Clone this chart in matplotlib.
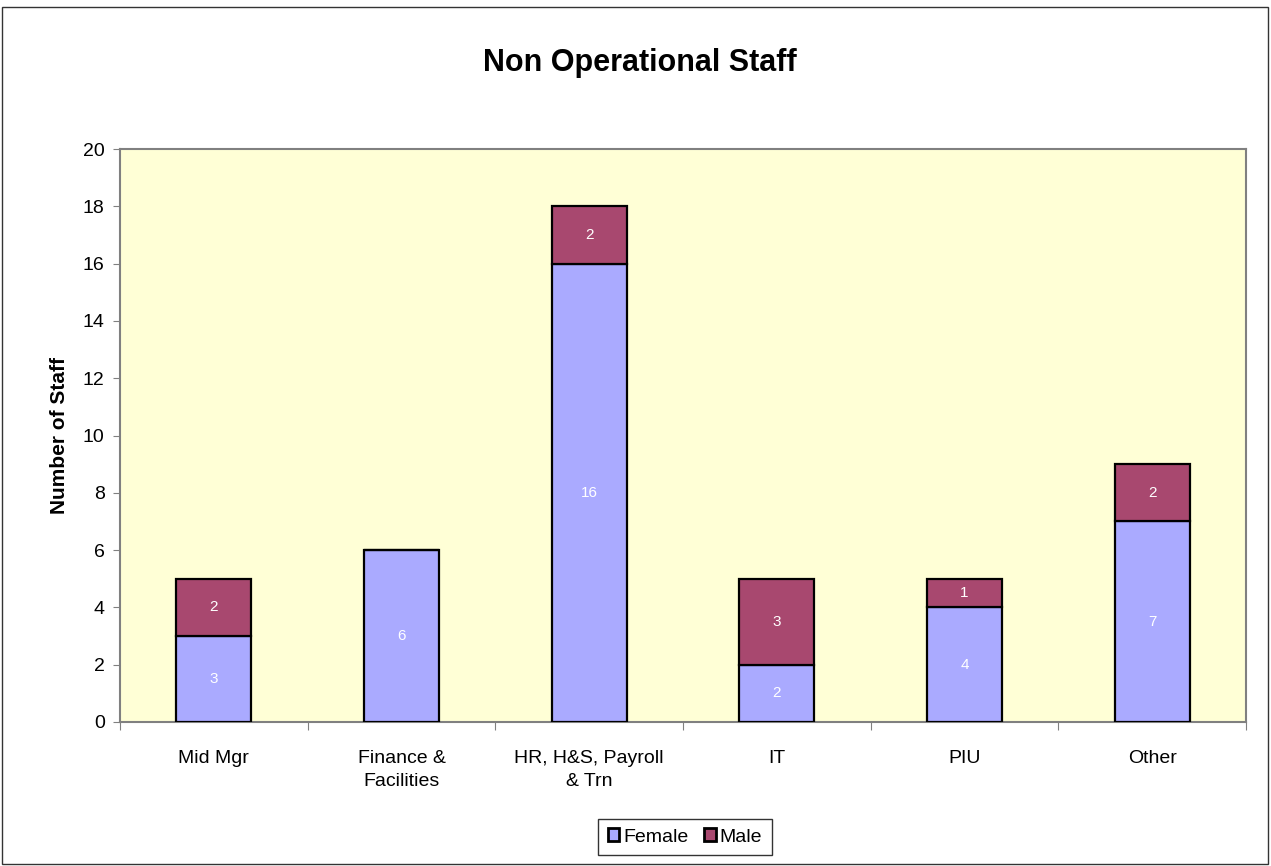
import matplotlib
matplotlib.use("Agg")
import matplotlib.pyplot as plt
from matplotlib.patches import Rectangle
import numpy as np

plt.rcParams['font.family'] = ['Liberation Sans', 'DejaVu Sans']

categories = ["Mid Mgr", "Finance &\nFacilities", "HR, H&S, Payroll\n& Trn", "IT", "PIU", "Other"]
female = [3, 6, 16, 2, 4, 7]
male = [2, 0, 2, 3, 1, 2]

c_female = "#AAAAFF"
c_male = "#A8486F"
bg = "#FFFFD6"
axis_grey = "#808080"

fig = plt.figure(figsize=(12.71, 8.66), dpi=100)
ax = fig.add_axes([120/1271, 1-722/866, (1246-120)/1271, (722-149)/866])
ax.set_facecolor(bg)

x = np.arange(len(categories))
w = 0.4
b1 = ax.bar(x, female, w, color=c_female, edgecolor="black", linewidth=1.6, zorder=3)
b2 = ax.bar(x, male, w, bottom=female, color=c_male, edgecolor="black", linewidth=1.6, zorder=3)

for i in range(len(categories)):
    if female[i] > 0:
        ax.text(x[i], female[i]/2, str(female[i]), ha="center", va="center", color="white", fontsize=11, zorder=4)
    if male[i] > 0:
        ax.text(x[i], female[i] + male[i]/2, str(male[i]), ha="center", va="center", color="white", fontsize=11, zorder=4)

ax.set_xlim(-0.5, len(categories)-0.5)
ax.set_ylim(0, 20)
ax.set_yticks(np.arange(0, 21, 2))
ax.tick_params(axis="y", direction="out", length=5, color=axis_grey, labelsize=14, pad=6)
ax.set_xticks(np.arange(-0.5, len(categories), 1))
ax.set_xticklabels([])
ax.set_xticks(x, minor=True)
ax.set_xticklabels(categories, minor=True, fontsize=14, linespacing=1.45)
ax.tick_params(axis="x", which="major", direction="out", length=6, color=axis_grey)
ax.tick_params(axis="x", which="minor", length=0, pad=20)
for s in ax.spines.values():
    s.set_color(axis_grey)
    s.set_linewidth(1.5)

ax.set_ylabel("Number of Staff", fontsize=15, fontweight="bold", labelpad=10)
fig.text(640/1271, 1-63/866, "Non Operational Staff", ha="center", va="center", fontsize=22, fontweight="bold")

leg = fig.legend([b1, b2], ["Female", "Male"], loc="center", bbox_to_anchor=(685/1271, 1-837/866),
                 ncol=2, frameon=True, fancybox=False, edgecolor="black", fontsize=14,
                 handlelength=0.6, handleheight=0.6, handletextpad=0.2, columnspacing=0.8,
                 borderpad=0.5)
leg.get_frame().set_linewidth(1.0)
for h in leg.legend_handles:
    h.set_linewidth(2)

fig.patches.append(Rectangle((2/1271, 2/866), 1266/1271, 857/866, transform=fig.transFigure,
                             fill=False, edgecolor="#333333", linewidth=1))

fig.savefig("out.png", dpi=100)
